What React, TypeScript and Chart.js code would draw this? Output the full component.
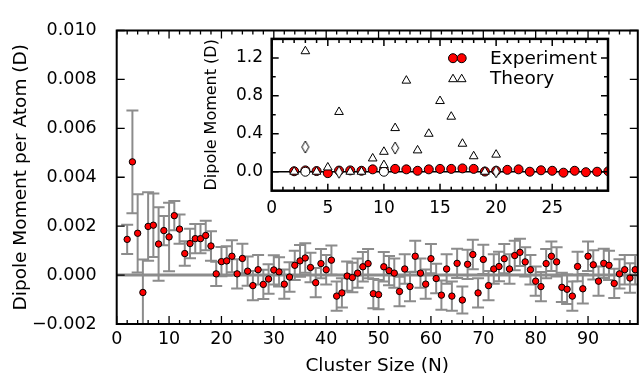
import React, { useEffect, useRef } from 'react';
import { Chart, registerables } from 'chart.js';

Chart.register(...registerables);

const FONT = "'DejaVu Sans', 'Liberation Sans', sans-serif";

// ---------- main chart data ----------
const clusterSizes = [2,3,4,5,6,7,8,9,10,11,12,13,14,15,16,17,18,19,20,21,22,23,24,25,26,27,28,29,30,31,32,33,34,35,36,37,38,39,40,41,42,43,44,45,46,47,48,49,50,51,52,53,54,55,56,57,58,59,60,61,62,63,64,65,66,67,68,69,70,71,72,73,74,75,76,77,78,79,80,81,82,83,84,85,86,87,88,89,90,91,92,93,94,95,96,97,98,99];

const dipolePerAtom = [
  0.00146, 0.00463, 0.00171, -0.00071, 0.00199, 0.00204, 0.00127, 0.00182, 0.00156, 0.00243,
  0.00188, 0.00088, 0.00129, 0.00149, 0.00149, 0.00162, 0.00119, 0.00005, 0.00055, 0.00058,
  0.00077, 0.00005, 0.00068, 0.00016, -0.00043, 0.00022, -0.00038, -0.00016, 0.00021, 0.00013,
  -0.00037, -0.00008, 0.0004, 0.00058, 0.0007, 0.00031, -0.00031, 0.00047, 0.00022, 0.00061,
  -0.00086, -0.00073, -0.00004, -0.0001, 0.00008, 0.00034, 0.00047, -0.00076, -0.0008, 0.00034,
  0.00018, 0.00008, -0.00067, 0.00025, -0.00047, 0.00077, 0.00008, -0.00037, 0.00067, -0.00014,
  -0.00082, 0.00025, -0.00086, 0.00048, -0.00102, 0.00044, 0.00084, -0.00073, 0.00064, -0.00043,
  0.00025, 0.00035, 0.00067, 0.00025, 0.0008, 0.00093, 0.00054, 0.00022, -0.00025, -0.00047,
  0.00047, 0.00077, 0.00054, -0.0005, -0.00058, -0.00086, 0.00035, -0.00056, 0.00077, 0.00042,
  -0.00025, 0.00048, 0.0004, -0.00034, 0.00005, 0.00022, -0.00012, 0.00022,
];

const dipoleError = [
  0.0006, 0.0021, 0.0016, 0.00135, 0.0014, 0.0013, 0.0015, 0.0006, 0.0014, 0.0006,
  0.0006, 0.0005, 0.0006, 0.0006, 0.0006, 0.0006, 0.0006, 0.0005, 0.0006, 0.0006,
  0.00065, 0.0006, 0.0006, 0.0006, 0.0006, 0.0006, 0.0006, 0.0006, 0.0006, 0.0006,
  0.0006, 0.0006, 0.0006, 0.00065, 0.0006, 0.0006, 0.0006, 0.0006, 0.0006, 0.0006,
  0.0006, 0.0006, 0.0006, 0.0006, 0.0006, 0.0006, 0.0006, 0.0006, 0.0006, 0.0006,
  0.0006, 0.0006, 0.0006, 0.0006, 0.0006, 0.00063, 0.0006, 0.0006, 0.0006, 0.0006,
  0.0006, 0.0006, 0.0006, 0.0006, 0.00055, 0.0006, 0.0006, 0.0006, 0.0006, 0.0006,
  0.0006, 0.0006, 0.0006, 0.0006, 0.0006, 0.00056, 0.0006, 0.0006, 0.0006, 0.0006,
  0.0006, 0.0006, 0.0006, 0.0006, 0.0006, 0.0006, 0.0006, 0.0006, 0.0006, 0.0006,
  0.0006, 0.0006, 0.0006, 0.0006, 0.0006, 0.0006, 0.0006, 0.0006,
];

const mainXTicks = [0, 10, 20, 30, 40, 50, 60, 70, 80, 90];
const mainYTicks = [-0.002, 0, 0.002, 0.004, 0.006, 0.008, 0.01];

// ---------- inset data ----------
const insetSizes = [2,3,4,5,6,7,8,9,10,11,12,13,14,15,16,17,18,19,20,21,22,23,24,25,26,27,28,29,30];
const experimentMoment = [
  0.005, 0.014, 0.007, -0.015, 0.012, 0.014, 0.01, 0.025, 0.016, 0.03,
  0.025, 0.01, 0.025, 0.03, 0.03, 0.035, 0.03, 0.002, 0.01, 0.02,
  0.025, 0.0, 0.015, 0.01, -0.01, 0.01, -0.005, 0.0, 0.005,
];
const theoryTriSizes = [2,3,4,5,6,7,8,9,10,11,12,13,14,15,16,17,18,19,20];
const theoryTriMoment = [0, 1.27, 0, 0.045, 0.63, 0, 0, 0.14, 0.21, 0.46, 0.96, 0.225, 0.4, 0.745, 0.58, 0.295, 0.163, 0, 0.18];
const theoryTri2Sizes = [10];
const theoryTri2Moment = [0.07];
const theoryDiamondSizes = [3, 6, 11, 20];
const theoryDiamondMoment = [0.26, -0.005, 0.25, 0.0];
const theoryCircleSizes = [3, 10];
const theoryCircleMoment = [0.0, 0.0];

const insetXTicks = [0, 5, 10, 15, 20, 25];
const insetYTicks = [0, 0.4, 0.8, 1.2];

function range(start: number, end: number, step: number, skip: number[]) {
  const out: number[] = [];
  for (let v = start; v <= end + 1e-9; v += step) {
    const r = Math.round(v * 1000) / 1000;
    if (!skip.some((s) => Math.abs(s - r) < 1e-9)) out.push(r);
  }
  return out;
}

const mainXMinor = range(2, 98, 2, mainXTicks);
const insetXMinor = range(1, 29, 1, insetXTicks);
const insetYMinor = [0.2, 0.6, 1.0];

function framePlugin(id: string, cfg: any) {
  return {
    id,
    afterDatasetsDraw(chart: any) {
      const { ctx, chartArea: a, scales } = chart;
      const xs = scales.x;
      const ys = scales.y;
      ctx.save();
      ctx.strokeStyle = '#000';
      ctx.lineWidth = cfg.tickWidth;
      ctx.beginPath();
      const xt = (vals: number[], len: number) =>
        vals.forEach((v) => {
          const p = xs.getPixelForValue(v);
          ctx.moveTo(p, a.bottom);
          ctx.lineTo(p, a.bottom - len);
          ctx.moveTo(p, a.top);
          ctx.lineTo(p, a.top + len);
        });
      const yt = (vals: number[], len: number) =>
        vals.forEach((v) => {
          const p = ys.getPixelForValue(v);
          ctx.moveTo(a.left, p);
          ctx.lineTo(a.left + len, p);
          ctx.moveTo(a.right, p);
          ctx.lineTo(a.right - len, p);
        });
      xt(cfg.xMajor, cfg.majorLen);
      xt(cfg.xMinor, cfg.minorLen);
      yt(cfg.yMajor, cfg.majorLen);
      yt(cfg.yMinor, cfg.minorLen);
      ctx.stroke();
      ctx.lineWidth = cfg.frameWidth;
      ctx.strokeRect(a.left, a.top, a.right - a.left, a.bottom - a.top);
      ctx.restore();
    },
  };
}

const errorBarPlugin = {
  id: 'errorBars',
  beforeDatasetsDraw(chart: any) {
    const { ctx, chartArea: a, scales } = chart;
    const xs = scales.x;
    const ys = scales.y;
    ctx.save();
    ctx.beginPath();
    ctx.rect(a.left, a.top, a.right - a.left, a.bottom - a.top);
    ctx.clip();
    ctx.strokeStyle = '#8c8c8c';
    ctx.lineWidth = 3;
    const y0 = ys.getPixelForValue(0);
    ctx.beginPath();
    ctx.moveTo(a.left, y0);
    ctx.lineTo(a.right, y0);
    ctx.stroke();
    ctx.lineWidth = 2;
    ctx.beginPath();
    clusterSizes.forEach((n, i) => {
      const px = xs.getPixelForValue(n);
      const hi = ys.getPixelForValue(dipolePerAtom[i] + dipoleError[i]);
      const lo = ys.getPixelForValue(dipolePerAtom[i] - dipoleError[i]);
      ctx.moveTo(px, hi);
      ctx.lineTo(px, lo);
      ctx.moveTo(px - 6, hi);
      ctx.lineTo(px + 6, hi);
      ctx.moveTo(px - 6, lo);
      ctx.lineTo(px + 6, lo);
    });
    ctx.stroke();
    ctx.restore();
  },
};

const insetZeroPlugin = {
  id: 'insetZero',
  beforeDatasetsDraw(chart: any) {
    const { ctx, chartArea: a, scales } = chart;
    const y0 = scales.y.getPixelForValue(0);
    ctx.save();
    ctx.strokeStyle = '#000';
    ctx.lineWidth = 1.5;
    ctx.beginPath();
    ctx.moveTo(a.left, y0);
    ctx.lineTo(a.right, y0);
    ctx.stroke();
    ctx.restore();
  },
};

function drawTriangle(ctx: CanvasRenderingContext2D, x: number, y: number, r: number) {
  let rad = 0;
  ctx.beginPath();
  ctx.moveTo(x + Math.sin(rad) * r, y - Math.cos(rad) * r);
  rad += (2 * Math.PI) / 3;
  ctx.lineTo(x + Math.sin(rad) * r, y - Math.cos(rad) * r);
  rad += (2 * Math.PI) / 3;
  ctx.lineTo(x + Math.sin(rad) * r, y - Math.cos(rad) * r);
  ctx.closePath();
  ctx.fillStyle = '#fff';
  ctx.fill();
  ctx.strokeStyle = '#000';
  ctx.lineWidth = 1;
  ctx.stroke();
}

const legendItems = ['Experiment', 'Theory'];

const insetLegendPlugin = {
  id: 'insetLegend',
  afterDraw(chart: any) {
    const { ctx, chartArea: a } = chart;
    ctx.save();
    const mx = [a.right - 155, a.right - 146.3];
    const rows = [a.top + 19.3, a.top + 39.3];
    mx.forEach((x) => {
      ctx.beginPath();
      ctx.arc(x, rows[0], 4.5, 0, Math.PI * 2);
      ctx.fillStyle = '#ff0000';
      ctx.fill();
      ctx.strokeStyle = '#000';
      ctx.lineWidth = 1;
      ctx.stroke();
    });
    mx.forEach((x) => drawTriangle(ctx, x, rows[1] + 1, 5));
    ctx.fillStyle = '#000';
    ctx.font = `18.5px ${FONT}`;
    ctx.textBaseline = 'middle';
    ctx.textAlign = 'left';
    legendItems.forEach((t, i) => ctx.fillText(t, a.right - 118, rows[i] + 1));
    ctx.restore();
  },
};

const fmtMain = (v: number) => {
  const s = Math.abs(v) < 1e-12 ? '0.000' : Math.abs(v).toFixed(3);
  return v < -1e-12 ? '\u2212' + s : s;
};

export default function App() {
  const mainRef = useRef<HTMLCanvasElement>(null);
  const insetRef = useRef<HTMLCanvasElement>(null);

  useEffect(() => {
    const diamond = document.createElement('canvas');
    diamond.width = 10;
    diamond.height = 14;
    const dctx = diamond.getContext('2d')!;
    dctx.beginPath();
    dctx.moveTo(5, 1);
    dctx.lineTo(8.5, 7);
    dctx.lineTo(5, 13);
    dctx.lineTo(1.5, 7);
    dctx.closePath();
    dctx.fillStyle = '#fff';
    dctx.fill();
    dctx.strokeStyle = '#000';
    dctx.lineWidth = 1;
    dctx.stroke();

    const main = new Chart(mainRef.current!, {
      type: 'scatter',
      data: {
        datasets: [
          {
            data: clusterSizes.map((n, i) => ({ x: n, y: dipolePerAtom[i] })),
            pointRadius: 3.2,
            pointHoverRadius: 3.2,
            backgroundColor: '#ff0000',
            borderColor: '#000',
            borderWidth: 1,
          },
        ],
      },
      options: {
        responsive: false,
        animation: false,
        events: [],
        layout: { padding: { left: 0, top: 18, right: 3, bottom: 0 } },
        plugins: { legend: { display: false }, tooltip: { enabled: false } },
        scales: {
          x: {
            type: 'linear',
            min: 0,
            max: 99.5,
            grid: { display: false, drawTicks: false },
            border: { display: false },
            afterBuildTicks: (s: any) => {
              s.ticks = mainXTicks.map((v) => ({ value: v }));
            },
            afterFit: (s: any) => {
              s.height = 57;
            },
            ticks: {
              color: '#000',
              font: { family: FONT, size: 17.5 },
              padding: 5,
              maxRotation: 0,
              autoSkip: false,
              callback: (v: any) => String(v),
            },
            title: {
              display: true,
              text: 'Cluster Size (N)',
              color: '#000',
              font: { family: FONT, size: 18.5 },
              padding: { top: 0, bottom: 4 },
            },
          },
          y: {
            type: 'linear',
            min: -0.002,
            max: 0.01,
            grid: { display: false, drawTicks: false },
            border: { display: false },
            afterBuildTicks: (s: any) => {
              s.ticks = mainYTicks.map((v) => ({ value: v }));
            },
            afterFit: (s: any) => {
              s.width = 116.7;
            },
            ticks: {
              color: '#000',
              font: { family: FONT, size: 17.5 },
              padding: 20,
              autoSkip: false,
              callback: (v: any) => fmtMain(Number(v)),
            },
            title: {
              display: true,
              text: 'Dipole Moment per Atom (D)',
              color: '#000',
              font: { family: FONT, size: 18.5 },
              padding: { top: 10, bottom: 0 },
            },
          },
        },
      },
      plugins: [
        errorBarPlugin,
        framePlugin('mainFrame', {
          xMajor: mainXTicks,
          xMinor: mainXMinor,
          yMajor: mainYTicks,
          yMinor: [],
          majorLen: 8,
          minorLen: 4,
          tickWidth: 1.3,
          frameWidth: 2,
        }),
      ],
    } as any);

    const pts = (xs: number[], ys: number[]) => xs.map((n, i) => ({ x: n, y: ys[i] }));
    const theoryStyle = {
      backgroundColor: '#fff',
      borderColor: '#000',
      borderWidth: 1,
      clip: 0,
      order: 0,
    };

    const inset = new Chart(insetRef.current!, {
      type: 'scatter',
      data: {
        datasets: [
          { ...theoryStyle, data: pts(theoryTriSizes, theoryTriMoment), pointStyle: 'triangle', pointRadius: 5, pointHoverRadius: 5 },
          { ...theoryStyle, data: pts(theoryTri2Sizes, theoryTri2Moment), pointStyle: 'triangle', pointRadius: 5, pointHoverRadius: 5 },
          { ...theoryStyle, data: pts(theoryDiamondSizes, theoryDiamondMoment), pointStyle: diamond, pointRadius: 5, pointHoverRadius: 5 },
          { ...theoryStyle, data: pts(theoryCircleSizes, theoryCircleMoment), pointStyle: 'circle', pointRadius: 4.5, pointHoverRadius: 4.5 },
          {
            data: pts(insetSizes, experimentMoment),
            pointStyle: 'circle',
            pointRadius: 4.5,
            pointHoverRadius: 4.5,
            backgroundColor: '#ff0000',
            borderColor: '#000',
            borderWidth: 1,
            clip: 0,
            order: 1,
          },
        ],
      },
      options: {
        responsive: false,
        animation: false,
        events: [],
        layout: { padding: { left: 0, top: 16.7, right: 22, bottom: 0 } },
        plugins: { legend: { display: false }, tooltip: { enabled: false } },
        scales: {
          x: {
            type: 'linear',
            min: 0,
            max: 29.97,
            grid: { display: false, drawTicks: false },
            border: { display: false },
            afterBuildTicks: (s: any) => {
              s.ticks = insetXTicks.map((v) => ({ value: v }));
            },
            afterFit: (s: any) => {
              s.height = 49.3;
            },
            ticks: {
              color: '#000',
              font: { family: FONT, size: 17 },
              padding: 8,
              maxRotation: 0,
              autoSkip: false,
              callback: (v: any) => String(v),
            },
          },
          y: {
            type: 'linear',
            min: -0.2,
            max: 1.4,
            grid: { display: false, drawTicks: false },
            border: { display: false },
            afterBuildTicks: (s: any) => {
              s.ticks = insetYTicks.map((v) => ({ value: v }));
            },
            afterFit: (s: any) => {
              s.width = 81.7;
            },
            ticks: {
              color: '#000',
              font: { family: FONT, size: 17 },
              padding: 8.7,
              autoSkip: false,
              callback: (v: any) => Number(v).toFixed(1),
            },
            title: {
              display: true,
              text: 'Dipole Moment (D)',
              color: '#000',
              font: { family: FONT, size: 16 },
              padding: { top: 12.4, bottom: 0 },
            },
          },
        },
      },
      plugins: [
        insetZeroPlugin,
        framePlugin('insetFrame', {
          xMajor: insetXTicks,
          xMinor: insetXMinor,
          yMajor: insetYTicks,
          yMinor: insetYMinor,
          majorLen: 7,
          minorLen: 4,
          tickWidth: 1.5,
          frameWidth: 2.5,
        }),
        insetLegendPlugin,
      ],
    } as any);

    return () => {
      main.destroy();
      inset.destroy();
    };
  }, []);

  return (
    <div style={{ position: 'fixed', left: 0, top: 0, width: 642, height: 381, background: '#fff' }}>
      <canvas
        ref={mainRef}
        width={642}
        height={381}
        style={{ position: 'absolute', left: 0, top: 0, width: 642, height: 381, display: 'block' }}
      />
      <canvas
        ref={insetRef}
        width={440}
        height={220}
        style={{ position: 'absolute', left: 190, top: 20, width: 440, height: 220, display: 'block' }}
      />
    </div>
  );
}
